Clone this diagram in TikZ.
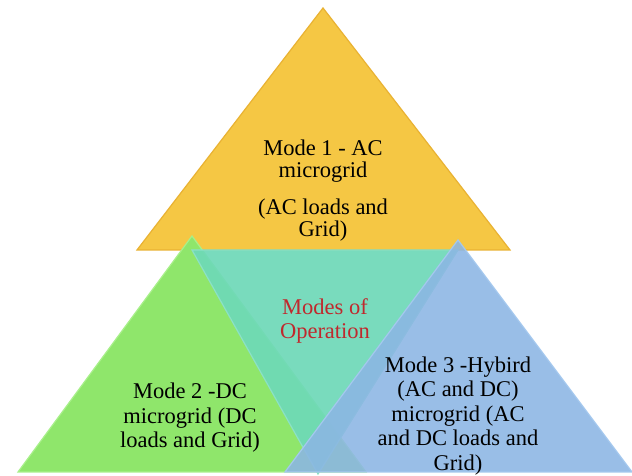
\documentclass[tikz,border=0pt]{standalone}
\usepackage{fontspec}
\setmainfont{Liberation Serif}
\definecolor{ylw}{HTML}{F5C744}
\definecolor{ylwedge}{HTML}{E9B232}
\definecolor{grn}{HTML}{8FE66B}
\definecolor{grnedge}{HTML}{A8F08A}
\definecolor{tel}{HTML}{6ED9B8}
\definecolor{blu}{HTML}{8CB6E4}
\definecolor{bluedge}{HTML}{A4C8EE}
\definecolor{redtxt}{HTML}{C0282D}
\tikzset{
  tri/.style={line width=1.2pt, line join=miter},
  lbl/.style={align=center, font=\fontsize{22.5}{24.5}\selectfont, text=black, inner sep=0pt},
}
\begin{document}
\begin{tikzpicture}[x=1pt,y=1pt]
\useasboundingbox (0,0) rectangle (632,476);
\fill[white] (0,0) rectangle (632,476);
% yellow top triangle
\filldraw[tri, fill=ylw, draw=ylwedge] (137,226) -- (323,468) -- (510,226) -- cycle;
% green left triangle
\filldraw[tri, fill=grn, draw=grnedge] (18,4) -- (192,240) -- (366,4) -- cycle;
% teal inverted triangle
\filldraw[tri, fill=tel, draw=tel!80!white, fill opacity=0.92] (192,226) -- (458,226) -- (318,2) -- cycle;
% blue right triangle
\filldraw[tri, fill=blu, draw=bluedge, fill opacity=0.88] (285,4) -- (458,236) -- (632,4) -- cycle;
% texts
\node[lbl, font=\fontsize{22.5}{22.5}\selectfont] (m1a) at (323,315) {Mode 1 - AC\\microgrid};
\node[lbl, font=\fontsize{22.5}{22.5}\selectfont] (m1b) at (323,256) {(AC loads and\\Grid)};
\node[lbl, text=redtxt] (mo) at (325,155) {Modes of\\Operation};
\node[lbl] (m2) at (190,58) {Mode 2 -DC\\microgrid (DC\\loads and Grid)};
\node[lbl] (m3) at (458,60) {Mode 3 -Hybird\\(AC and DC)\\microgrid (AC\\and DC loads and\\Grid)};
\end{tikzpicture}
\end{document}
